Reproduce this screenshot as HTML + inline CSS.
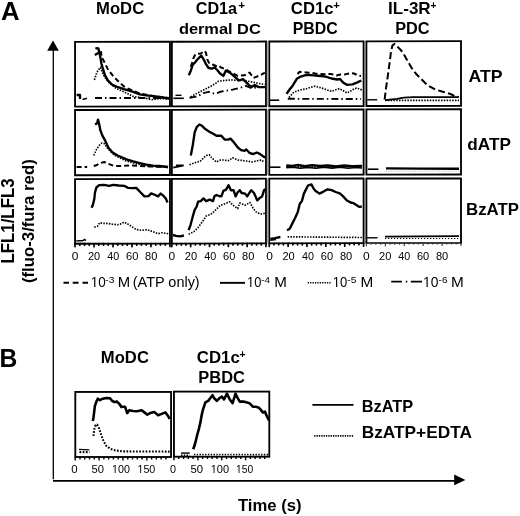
<!DOCTYPE html>
<html><head><meta charset="utf-8"><title>Figure</title><style>
html,body{margin:0;padding:0;background:#fff;}
svg{display:block;filter:grayscale(1) blur(0.35px);}
text{font-family:"Liberation Sans", sans-serif;fill:#000;}
.b{font-weight:bold;}
.r{font-weight:normal;}
.tl{font-size:10px;text-anchor:middle;}
.bx{fill:none;stroke:#000;stroke-width:1.85;}
.bxt{fill:none;stroke:#000;stroke-width:1.5;}
.tk{fill:none;stroke:#000;stroke-width:1.4;}
.tka{fill:none;stroke:#000;stroke-width:1.7;stroke-linecap:round;}
.tkf{fill:none;stroke:#333;stroke-width:1.1;}
.cof{stroke:#bbb;stroke-width:1;stroke-dasharray:1.2 1.2;}
.cof2{stroke:#000;stroke-width:1.2;stroke-dasharray:1.2 1.8;}
polyline,path{fill:none;stroke-linejoin:round;}
.cs{stroke:#000;stroke-width:2.35;}
.csb{stroke:#000;stroke-width:2.6;}
.csm{stroke:#000;stroke-width:1.7;}
.ct{stroke:#000;stroke-width:1.6;}
.cd{stroke:#000;stroke-width:2;stroke-dasharray:5 3;}
.cdl{stroke:#000;stroke-width:2;stroke-dasharray:7 3.2;}
.co{stroke:#000;stroke-width:1.65;stroke-dasharray:1.5 1.3;}
.cob{stroke:#000;stroke-width:2.1;stroke-dasharray:1.7 1.5;}
.cob2{stroke:#000;stroke-width:1.6;stroke-dasharray:1.4 1.4;}
.cdd{stroke:#000;stroke-width:1.9;stroke-dasharray:7 3 1.5 3;}
.ax{stroke:#000;stroke-width:1.3;}
.axh{stroke:#000;stroke-width:1.9;}
.ah{fill:#000;stroke:none;}
.lg{stroke:#000;stroke-width:1.9;}
.lgo{stroke:#000;stroke-width:1.6;stroke-dasharray:1.3 1.1;}
.lgb{stroke:#000;stroke-width:1.9;}
.lgbo{stroke:#000;stroke-width:1.7;stroke-dasharray:1.3 1.05;}
</style></head>
<body><svg width="520" height="516" viewBox="0 0 520 516">
<rect width="520" height="516" fill="#fff"/>
<g transform="matrix(1,-0.0019,0,1,0,0.1425)">
<rect x="75.05" y="41.90" width="94.90" height="64.70" class="bx"/>
<rect x="171.85" y="41.90" width="94.15" height="64.70" class="bx"/>
<rect x="269.25" y="41.90" width="94.35" height="64.70" class="bx"/>
<rect x="366.40" y="41.90" width="94.60" height="64.70" class="bx"/>
<rect x="266.9" y="41.90" width="1.4" height="64.70" fill="#aaa"/>
<rect x="364.5" y="41.90" width="1.0" height="64.70" fill="#777"/>
<rect x="75.05" y="110.00" width="94.90" height="65.20" class="bx"/>
<rect x="171.85" y="110.00" width="94.15" height="65.20" class="bx"/>
<rect x="269.25" y="110.00" width="94.35" height="65.20" class="bx"/>
<rect x="366.40" y="110.00" width="94.60" height="65.20" class="bx"/>
<rect x="266.9" y="110.00" width="1.4" height="65.20" fill="#aaa"/>
<rect x="364.5" y="110.00" width="1.0" height="65.20" fill="#777"/>
<rect x="75.05" y="179.05" width="94.90" height="64.70" class="bx"/>
<rect x="171.85" y="179.05" width="94.15" height="64.70" class="bx"/>
<rect x="269.25" y="179.05" width="94.35" height="64.70" class="bx"/>
<path class="bx" d="M366.40,243.75V179.05H461.00V243.75"/>
<path class="bxt" d="M365.50,243.65H461.90"/>
<rect x="266.9" y="179.05" width="1.4" height="64.70" fill="#aaa"/>
<rect x="364.5" y="179.05" width="1.0" height="64.70" fill="#777"/>
</g>
<rect x="75.30" y="391.95" width="95.75" height="65.05" class="bx"/>
<rect x="173.95" y="391.60" width="95.35" height="65.10" class="bx"/>
<g transform="matrix(1,-0.0019,0,1,0,0.1425)">
<path class="tka" d="M75.05,243.75V246.75M79.80,243.75V245.25M84.54,243.75V245.25M89.28,243.75V245.25M94.03,243.75V246.75M98.77,243.75V245.25M103.52,243.75V245.25M108.26,243.75V245.25M113.01,243.75V246.75M117.75,243.75V245.25M122.50,243.75V245.25M127.24,243.75V245.25M131.99,243.75V246.75M136.73,243.75V245.25M141.48,243.75V245.25M146.22,243.75V245.25M150.97,243.75V246.75M155.71,243.75V245.25M160.46,243.75V245.25M165.20,243.75V245.25M169.95,243.75V246.75"/>
<path class="tka" d="M171.85,243.75V246.75M176.56,243.75V245.25M181.26,243.75V245.25M185.97,243.75V245.25M190.68,243.75V246.75M195.39,243.75V245.25M200.09,243.75V245.25M204.80,243.75V245.25M209.51,243.75V246.75M214.22,243.75V245.25M218.93,243.75V245.25M223.63,243.75V245.25M228.34,243.75V246.75M233.05,243.75V245.25M237.75,243.75V245.25M242.46,243.75V245.25M247.17,243.75V246.75M251.88,243.75V245.25M256.58,243.75V245.25M261.29,243.75V245.25M266.00,243.75V246.75"/>
<path class="tka" d="M269.25,243.75V246.75M273.97,243.75V245.25M278.69,243.75V245.25M283.40,243.75V245.25M288.12,243.75V246.75M292.84,243.75V245.25M297.56,243.75V245.25M302.27,243.75V245.25M306.99,243.75V246.75M311.71,243.75V245.25M316.43,243.75V245.25M321.14,243.75V245.25M325.86,243.75V246.75M330.58,243.75V245.25M335.30,243.75V245.25M340.01,243.75V245.25M344.73,243.75V246.75M349.45,243.75V245.25M354.17,243.75V245.25M358.88,243.75V245.25M363.60,243.75V246.75"/>
<path class="tkf" d="M366.40,243.75V246.75M371.13,243.75V245.25M375.86,243.75V245.25M380.59,243.75V245.25M385.32,243.75V246.75M390.05,243.75V245.25M394.78,243.75V245.25M399.51,243.75V245.25M404.24,243.75V246.75M408.97,243.75V245.25M413.70,243.75V245.25M418.43,243.75V245.25M423.16,243.75V246.75M427.89,243.75V245.25M432.62,243.75V245.25M437.35,243.75V245.25M442.08,243.75V246.75M446.81,243.75V245.25M451.54,243.75V245.25M456.27,243.75V245.25M461.00,243.75V246.75"/>
</g>
<path class="tk" d="M75.20,457.00V460.60M79.98,457.00V459.40M84.75,457.00V459.40M89.53,457.00V459.40M94.30,457.00V459.40M99.08,457.00V460.60M103.85,457.00V459.40M108.62,457.00V459.40M113.40,457.00V459.40M118.18,457.00V459.40M122.95,457.00V460.60M127.73,457.00V459.40M132.50,457.00V459.40M137.28,457.00V459.40M142.05,457.00V459.40M146.82,457.00V460.60M151.60,457.00V459.40M156.38,457.00V459.40M161.15,457.00V459.40M165.93,457.00V459.40"/>
<path class="tk" d="M174.00,456.70V460.30M178.78,456.70V459.10M183.55,456.70V459.10M188.32,456.70V459.10M193.10,456.70V459.10M197.88,456.70V460.30M202.65,456.70V459.10M207.43,456.70V459.10M212.20,456.70V459.10M216.97,456.70V459.10M221.75,456.70V460.30M226.53,456.70V459.10M231.30,456.70V459.10M236.07,456.70V459.10M240.85,456.70V459.10M245.62,456.70V460.30M250.40,456.70V459.10M255.18,456.70V459.10M259.95,456.70V459.10M264.73,456.70V459.10"/>
<polyline class="co" points="94.4,79.9 97.0,72.0 100.4,67.4 104.3,76.6 109.6,83.2 116.2,88.5 124.0,91.8 126.6,93.1 133.0,96.4 146.0,98.4 152.0,99.7 160.0,98.6 169.0,99.0"/>
<polyline class="cd" points="102.4,58.2 108.3,70.0 113.6,76.6 120.2,83.2 124.0,86.5 130.0,89.5 140.0,93.5 150.0,95.5 160.0,97.0 169.0,98.0"/>
<path class="cs" d="M94.8,55.1L99.2,52.6M100.7,51.2L101.3,55.6"/>
<polyline class="cs" points="95.4,48.2 98.4,48.5 99.6,53.5 100.6,58.5 101.4,63.5 102.5,67.4 105.0,75.3 108.0,80.6 112.0,84.5 118.0,87.2 124.0,89.2 133.2,91.8 139.8,94.4 146.4,95.4 153.0,96.1 159.6,97.0 166.2,98.0 169.0,98.5"/>
<polyline class="cdd" points="95.0,98.0 169.0,98.0"/>
<path class="cs" d="M76.6,95H80V99"/><path class="ct" d="M82.5,99.5L87,98.3"/>
<polyline class="co" points="190.8,97.0 197.4,93.1 204.0,89.8 210.6,86.5 215.9,83.2 218.5,81.2 224.6,80.5 231.2,79.9 237.8,80.5 244.4,80.5 250.9,81.8 257.5,83.2 264.8,84.5"/>
<polyline class="cdd" points="189.5,97.7 197.4,96.4 203.3,93.1 208.6,91.8 214.5,93.8 217.2,93.1 220.6,91.7 225.2,90.8 232.5,89.7 240.4,87.8 245.7,85.8 252.3,88.4 258.0,87.0 264.8,87.0"/>
<polyline class="cd" points="190.8,66.7 193.4,58.2 195.4,54.2 200.7,53.5 204.6,50.9 206.0,52.9 207.3,59.5 209.3,63.4 213.2,64.7 215.9,66.0 219.8,66.0 220.6,67.4 225.9,69.3 231.2,72.6 237.8,75.9 244.4,75.3 249.6,72.6 253.6,77.9 260.2,75.3 264.8,72.6"/>
<polyline class="cs" points="188.8,75.3 190.8,70.7 192.8,64.7 195.4,62.1 198.0,58.8 201.3,55.5 203.3,58.8 206.0,64.1 208.6,68.0 211.9,68.7 214.5,67.4 217.2,70.0 219.8,73.3 223.3,75.9 225.9,70.6 229.9,72.6 235.1,77.2 239.1,80.5 243.0,79.2 247.0,83.2 250.9,87.1 254.9,85.1 258.8,87.1 264.8,87.1"/>
<path class="tk" d="M175.5,95.3H181.5"/><path class="ct" d="M173.4,98.3H183.8"/>
<polyline class="co" points="289.0,97.5 293.0,93.0 296.8,91.0 301.0,89.8 306.5,88.7 310.0,87.5 314.2,86.2 318.0,87.0 321.8,88.1 326.0,89.5 331.5,91.4 335.0,90.0 339.2,88.7 343.0,90.5 346.9,93.0 350.0,91.5 353.0,89.5 356.5,88.1 359.0,88.8 362.0,90.0"/>
<polyline class="cdd" points="287.8,98.8 361.0,99.0"/>
<polyline class="cd" points="297.5,74.0 299.7,71.8 306.5,72.5 312.0,73.0 318.0,74.0 325.0,74.2 331.0,74.0 336.4,75.5 340.4,74.6 345.0,74.4 350.9,73.0 354.0,73.5 358.4,75.6 361.0,76.0"/>
<polyline class="cs" points="286.5,93.8 290.0,89.0 293.0,85.2 296.8,78.8 300.7,76.6 306.5,74.9 311.0,75.2 316.0,75.6 321.0,76.0 325.7,76.6 331.5,78.5 337.2,79.5 340.0,79.0 343.0,82.4 346.9,84.8 352.6,84.3 357.4,82.4 361.3,80.5"/>
<path class="ct" d="M270,100.2H279.2"/>
<polyline class="co" points="385.0,100.3 459.0,100.3"/>
<polyline class="csm" points="385.1,100.2 397.0,98.9 403.6,97.6 413.5,97.1 459.0,97.2"/>
<polyline class="cdl" points="384.6,99.5 385.8,89.8 387.7,76.6 389.7,62.1 391.0,51.6 392.4,45.6 394.3,43.9 397.0,46.2 400.3,49.5 402.9,52.5 406.2,58.5 410.2,65.5 412.6,69.5 416.0,73.7 421.7,79.5 427.5,85.2 435.2,89.5 442.8,91.8 450.5,94.0 455.0,96.3 458.7,97.0"/>
<path class="tk" d="M367.3,99.8H377.2"/>
<polyline class="co" points="93.8,155.5 96.4,149.6 99.1,145.6 101.7,143.0 104.3,143.6 107.0,147.6 110.0,151.0 115.0,155.5 120.0,158.0 126.0,161.0 135.0,163.5 145.0,165.5 155.0,166.5 168.0,167.5"/>
<polyline class="cd" points="93.8,166.0 97.0,165.0 99.0,163.4 104.3,162.0 107.0,163.4 113.6,165.8 119.5,166.0 130.0,165.5 140.0,166.0 150.0,166.5 168.0,167.0"/>
<polyline class="cs" points="95.1,124.5 97.1,123.2 98.0,119.6 99.1,123.8 100.4,130.4 102.4,135.7 105.0,140.3 108.3,147.6 112.3,152.2 117.5,155.5 120.0,156.5 126.6,159.4 133.2,161.4 139.8,163.1 146.4,164.7 152.9,165.7 159.5,166.0 168.1,167.0"/>
<path class="cd" d="M76.6,167.1H87.2"/>
<polyline class="co" points="189.5,164.7 194.7,162.7 200.0,161.4 202.7,158.8 206.0,155.5 209.3,154.8 211.9,158.1 216.5,162.0 220.5,160.1 223.3,160.0 228.5,160.7 232.5,157.8 237.8,160.0 244.4,160.7 252.3,162.0 257.5,160.7 261.5,160.0 264.1,162.0"/>
<polyline class="cs" points="190.8,155.5 192.8,145.0 194.7,132.4 196.7,127.1 199.4,124.5 202.0,125.8 205.3,129.1 209.3,131.7 213.2,133.7 216.5,135.7 221.3,135.7 224.6,139.6 227.9,139.6 230.5,138.6 233.8,142.3 237.8,147.5 241.1,150.2 244.4,150.8 246.3,149.5 249.6,152.8 252.9,154.1 256.9,152.5 260.2,154.1 263.5,156.7 265.2,157.4"/>
<path class="ct" d="M173.2,167.6L178,166.6L183.3,165.6M176,165.2H183.8"/>
<polyline class="co" points="286.3,166.8 362.0,167.0"/>
<polyline class="cs" points="286.3,165.5 292.0,165.8 298.0,165.0 305.0,166.2 312.0,165.2 320.0,166.0 328.0,165.4 336.0,166.3 344.0,165.5 352.0,166.2 362.0,165.8"/>
<polyline class="ct" points="286.3,167.6 293.0,167.2 300.0,168.2 308.0,167.4 316.0,168.2 324.0,167.3 332.0,168.1 340.0,167.3 348.0,168.2 356.0,167.5 362.0,168.0"/>
<path class="ct" d="M270,167.2H280.5"/>
<polyline class="cof" points="386.0,171.2 459.0,171.2"/>
<polyline class="cs" points="386.0,168.4 420.0,168.6 459.0,168.7"/>
<path class="ct" d="M367.8,169.2H378.4"/>
<polyline class="co" points="94.3,227.2 97.7,226.1 99.7,222.7 103.1,223.4 107.9,223.4 111.9,224.1 117.4,224.8 120.0,224.2 124.1,222.1 128.1,224.2 132.2,226.9 136.3,229.6 141.7,230.3 147.1,229.6 152.6,231.6 158.0,233.7 162.1,232.7 168.2,233.7"/>
<polyline class="cs" points="91.6,207.8 93.0,204.5 94.3,199.0 95.0,192.3 96.4,187.5 99.1,185.2 103.8,184.8 109.2,185.8 113.3,184.8 118.7,185.5 124.1,185.8 128.1,187.9 132.2,188.2 136.3,187.9 140.4,192.3 144.4,196.4 148.5,196.1 151.2,193.4 155.3,195.0 158.0,196.4 160.7,193.6 163.4,195.7 166.1,199.1 167.5,202.5"/>
<path class="tk" d="M76.2,240.9L80,240.7L83,240.6L84.5,239.4L86,240.5"/><path d="M76.2,242.5H86" stroke="#999" stroke-width="0.8"/>
<polyline class="co" points="188.6,234.3 194.0,231.6 198.1,227.5 202.2,222.1 206.2,216.0 210.3,214.6 213.0,212.6 215.7,209.9 220.5,205.1 223.4,204.5 229.5,201.8 232.9,205.2 237.7,208.6 239.7,203.1 245.1,205.2 249.9,202.5 253.3,208.6 256.7,212.6 261.4,214.0 264.8,213.3"/>
<polyline class="cs" points="188.6,230.2 190.6,224.8 192.7,216.7 194.7,209.9 196.7,206.5 198.1,201.7 200.8,201.1 203.5,198.4 206.2,201.1 209.6,199.7 213.0,201.1 214.4,196.3 216.4,195.0 219.0,196.0 221.4,196.4 223.4,190.9 226.1,189.6 228.6,185.2 230.9,190.2 233.6,190.2 235.6,196.4 237.7,192.3 239.7,190.2 241.7,193.0 245.1,193.6 247.2,196.4 251.2,190.2 254.0,193.0 257.3,200.4 260.1,197.7 262.1,196.4 264.1,190.2 265.8,188.9"/>
<path class="cs" d="M173,235L176,235.8L180,236.3L183.9,235.5"/>
<polyline class="co" points="287.6,236.8 362.0,237.5"/>
<polyline class="cs" points="287.0,230.2 289.7,228.8 292.4,223.4 295.1,218.0 297.8,211.9 299.8,203.8 301.9,201.1 303.9,193.6 305.9,189.6 308.0,185.5 311.4,184.4 313.4,188.2 315.4,190.9 316.7,191.6 319.4,193.6 323.5,191.6 327.6,189.3 331.6,190.2 335.7,192.0 339.8,193.4 343.2,196.4 346.6,200.2 350.6,202.5 353.3,203.1 356.7,205.2 359.5,206.9 361.8,206.5"/>
<path class="cs" d="M270.3,238.8L275,238.1L280.4,237"/><path class="tk" d="M270.3,240.3L276,239.5"/>
<polyline class="cof2" points="385.0,238.5 459.0,238.5"/>
<polyline class="csm" points="385.0,236.6 420.0,236.3 459.0,236.1"/>
<path class="tk" d="M367.1,237.8H377.5"/>
<polyline class="cob" points="93.5,436.0 94.2,429.5 95.6,425.0 97.1,424.5 99.2,428.8 101.4,435.3 103.5,441.0 106.4,446.0 110.7,448.9 115.0,450.3 119.3,451.0 124.0,451.4 169.6,451.6"/>
<polyline class="csb" points="92.8,421.0 93.5,417.4 94.2,411.6 94.9,405.9 96.4,401.6 97.8,398.7 99.9,400.2 102.8,398.7 106.4,398.0 110.0,398.3 112.1,400.9 114.3,402.0 117.1,401.6 119.3,403.8 121.4,407.0 122.9,406.7 125.0,406.7 127.2,413.1 129.3,410.3 132.9,411.0 137.2,411.3 141.6,410.3 144.4,412.4 147.3,414.6 150.2,413.1 154.5,412.1 158.1,415.3 161.7,413.9 165.3,412.4 168.1,416.0 169.6,418.9"/>
<path class="tk" d="M79,449.4L84,449.6L89.3,449.9"/><path class="cob" d="M79.5,452.1H89.5"/>
<polyline class="cob2" points="193.9,454.5 268.5,454.6"/>
<polyline class="csb" points="193.2,449.3 194.6,445.3 196.1,439.6 197.5,433.8 198.9,428.8 200.4,422.4 201.8,414.5 203.2,408.8 205.4,402.3 208.2,400.9 210.4,398.0 212.5,395.2 214.0,398.0 216.8,400.9 219.7,398.0 221.9,396.6 224.0,399.5 226.9,393.7 229.8,399.5 232.6,403.1 235.5,393.7 237.7,398.1 239.8,401.6 243.4,401.6 247.0,402.4 249.9,403.5 252.8,406.7 255.6,406.7 258.5,407.4 260.7,409.6 262.8,412.4 265.0,411.7 267.1,416.7 269.0,420.3"/>
<path class="tk" d="M181,453.1H189.8"/><path class="cob2" d="M181,455.2H189.6"/>
<path class="ax" d="M53.3,49V479.2"/>
<path class="axh" d="M53,480.9H456"/>
<path class="ah" d="M53,40.5L47.2,50.8H58.8Z"/>
<path class="ah" d="M465.4,479.9L454.2,474.6V485.3Z"/>
<path class="lg" d="M63.5,282.7H69M72.7,282.7H78.5M82.5,282.7H88"/>
<path class="lg" d="M220,282.85H245"/>
<path class="lgo" d="M307.7,282.7H331.5"/>
<path class="lg" d="M391.2,281.6H401.9M405.8,281.6H407.3M410.8,281.6H422"/>
<path class="lgb" d="M312.4,404.9H353.5"/>
<path class="lgbo" d="M314.2,435.8H353.5"/>
<text class="r" font-size="10.5" transform="translate(71.74,260.19) scale(1.1400,1.0676)">0</text>
<text class="r" font-size="10.5" transform="translate(87.92,260.19) scale(1.0561,1.0676)">20</text>
<text class="r" font-size="10.5" transform="translate(107.29,260.19) scale(1.0273,1.0676)">40</text>
<text class="r" font-size="10.5" transform="translate(126.02,260.19) scale(1.0561,1.0676)">60</text>
<text class="r" font-size="10.5" transform="translate(145.07,260.19) scale(1.0561,1.0676)">80</text>
<text class="r" font-size="10.5" transform="translate(168.59,260.19) scale(1.1400,1.0676)">0</text>
<text class="r" font-size="10.5" transform="translate(184.82,260.19) scale(1.0561,1.0676)">20</text>
<text class="r" font-size="10.5" transform="translate(204.24,260.19) scale(1.0273,1.0676)">40</text>
<text class="r" font-size="10.5" transform="translate(223.02,260.19) scale(1.0561,1.0676)">60</text>
<text class="r" font-size="10.5" transform="translate(242.12,260.19) scale(1.0561,1.0676)">80</text>
<text class="r" font-size="10.5" transform="translate(266.19,260.19) scale(1.1400,1.0676)">0</text>
<text class="r" font-size="10.5" transform="translate(282.47,260.19) scale(1.0561,1.0676)">20</text>
<text class="r" font-size="10.5" transform="translate(301.94,260.19) scale(1.0273,1.0676)">40</text>
<text class="r" font-size="10.5" transform="translate(320.77,260.19) scale(1.0561,1.0676)">60</text>
<text class="r" font-size="10.5" transform="translate(339.92,260.19) scale(1.0561,1.0676)">80</text>
<text class="r" font-size="10.5" transform="translate(362.99,260.19) scale(1.1400,1.0676)">0</text>
<text class="r" font-size="10.5" transform="translate(379.07,260.19) scale(1.0561,1.0676)">20</text>
<text class="r" font-size="10.5" transform="translate(398.34,260.19) scale(1.0273,1.0676)">40</text>
<text class="r" font-size="10.5" transform="translate(416.97,260.19) scale(1.0561,1.0676)">60</text>
<text class="r" font-size="10.5" transform="translate(435.92,260.19) scale(1.0561,1.0676)">80</text>
<text class="r" font-size="10" transform="translate(71.24,472.80) scale(1.1458,1.0423)">0</text>
<text class="r" font-size="10" transform="translate(91.55,472.80) scale(1.1250,1.0423)">50</text>
<text class="r" font-size="10" transform="translate(112.04,472.80) scale(1.0710,1.0423)">100</text><g transform="translate(112.04,472.80) scale(1.0710,1.0423)"><rect x="-0.293" y="-0.977" width="2.773" height="2.477" fill="#fff"/><rect x="3.433" y="-0.977" width="2.280" height="2.477" fill="#fff"/></g>
<text class="r" font-size="10" transform="translate(137.44,472.80) scale(1.0710,1.0423)">150</text><g transform="translate(137.44,472.80) scale(1.0710,1.0423)"><rect x="-0.293" y="-0.977" width="2.773" height="2.477" fill="#fff"/><rect x="3.433" y="-0.977" width="2.280" height="2.477" fill="#fff"/></g>
<text class="r" font-size="10" transform="translate(170.07,472.80) scale(1.0833,1.0423)">0</text>
<text class="r" font-size="10" transform="translate(190.55,472.80) scale(1.1346,1.0423)">50</text>
<text class="r" font-size="10" transform="translate(210.72,472.80) scale(1.1032,1.0423)">100</text><g transform="translate(210.72,472.80) scale(1.1032,1.0423)"><rect x="-0.293" y="-0.977" width="2.773" height="2.477" fill="#fff"/><rect x="3.433" y="-0.977" width="2.280" height="2.477" fill="#fff"/></g>
<text class="r" font-size="10" transform="translate(236.07,472.80) scale(1.0323,1.0423)">150</text><g transform="translate(236.07,472.80) scale(1.0323,1.0423)"><rect x="-0.293" y="-0.977" width="2.773" height="2.477" fill="#fff"/><rect x="3.433" y="-0.977" width="2.280" height="2.477" fill="#fff"/></g>
<text class="b" font-size="24" transform="translate(1.06,19.50) scale(1.0745,1.0606)">A</text>
<text class="b" font-size="24" transform="translate(-0.44,367.30) scale(1.0274,1.0485)">B</text>
<text class="b" font-size="16" transform="translate(96.05,14.10) scale(1.0425,1.0727)">MoDC</text>
<text class="b" font-size="16" transform="translate(195.79,14.10) scale(1.0099,1.0455)">CD1a</text>
<text class="b" font-size="11" transform="translate(238.26,9.05) scale(1.0727,1.0536)">+</text>
<text class="b" font-size="16" transform="translate(178.88,34.10) scale(1.0241,0.9655)">dermal DC</text>
<text class="b" font-size="16" transform="translate(290.87,13.85) scale(1.0453,1.0409)">CD1c</text>
<text class="b" font-size="11" transform="translate(333.24,8.81) scale(1.0273,1.0089)">+</text>
<text class="b" font-size="16" transform="translate(292.66,33.90) scale(0.9932,1.0545)">PBDC</text>
<text class="b" font-size="16" transform="translate(388.03,13.85) scale(1.0675,1.0591)">IL-3R</text>
<text class="b" font-size="11" transform="translate(430.44,8.82) scale(0.9273,1.0179)">+</text>
<text class="b" font-size="16" transform="translate(395.18,33.70) scale(1.0186,1.0500)">PDC</text>
<text class="b" font-size="16.5" transform="translate(468.47,81.70) scale(1.0714,1.0263)">ATP</text>
<text class="b" font-size="16.5" transform="translate(467.27,149.50) scale(1.0420,1.0088)">dATP</text>
<text class="b" font-size="16.5" transform="translate(466.08,214.90) scale(1.0179,1.0175)">BzATP</text>
<text class="b" font-size="16" transform="translate(100.86,362.70) scale(1.0403,1.0455)">MoDC</text>
<text class="b" font-size="16" transform="translate(196.86,362.70) scale(1.0504,1.0455)">CD1c</text>
<text class="b" font-size="11" transform="translate(239.43,358.42) scale(0.9455,1.0179)">+</text>
<text class="b" font-size="16" transform="translate(198.37,382.70) scale(1.0274,1.0455)">PBDC</text>
<text class="b" font-size="16" transform="translate(361.78,411.90) scale(1.0226,1.0545)">BzATP</text>
<text class="b" font-size="16" transform="translate(361.71,437.70) scale(1.0816,1.0455)">BzATP+EDTA</text>
<text class="b" font-size="16" transform="translate(237.99,510.70) scale(1.0417,1.0727)">Time (s)</text>
<text class="b" font-size="16" transform="translate(14.00,263.56) rotate(-90) scale(1.0530,1.1000)">LFL1/LFL3</text>
<text class="b" font-size="16" transform="translate(33.80,283.04) rotate(-90) scale(1.0480,0.9741)">(fluo-3/fura red)</text>
<text class="r" font-size="14" transform="translate(90.74,287.20) scale(0.9640,1.0000)">10</text><g transform="translate(90.74,287.20) scale(0.9640,1.0000)"><rect x="-0.410" y="-1.367" width="3.883" height="2.867" fill="#fff"/><rect x="4.806" y="-1.367" width="3.192" height="2.867" fill="#fff"/></g>
<text class="r" font-size="10" transform="translate(105.29,282.51) scale(1.0250,0.8592)">-3</text>
<text class="r" font-size="14" transform="translate(117.63,287.20) scale(1.0638,1.0000)">M</text>
<text class="r" font-size="14" transform="translate(246.99,287.20) scale(0.9209,1.0000)">10</text><g transform="translate(246.99,287.20) scale(0.9209,1.0000)"><rect x="-0.410" y="-1.367" width="3.883" height="2.867" fill="#fff"/><rect x="4.806" y="-1.367" width="3.192" height="2.867" fill="#fff"/></g>
<text class="r" font-size="10" transform="translate(261.30,282.60) scale(0.9878,0.8841)">-4</text>
<text class="r" font-size="14" transform="translate(274.21,287.20) scale(1.0851,1.0000)">M</text>
<text class="r" font-size="14" transform="translate(332.78,287.20) scale(0.9317,1.0000)">10</text><g transform="translate(332.78,287.20) scale(0.9317,1.0000)"><rect x="-0.410" y="-1.367" width="3.883" height="2.867" fill="#fff"/><rect x="4.806" y="-1.367" width="3.192" height="2.867" fill="#fff"/></g>
<text class="r" font-size="10" transform="translate(347.29,282.51) scale(1.0250,0.8714)">-5</text>
<text class="r" font-size="14" transform="translate(360.49,287.20) scale(1.0957,1.0000)">M</text>
<text class="r" font-size="14" transform="translate(423.11,287.20) scale(0.9928,1.0000)">10</text><g transform="translate(423.11,287.20) scale(0.9928,1.0000)"><rect x="-0.410" y="-1.367" width="3.883" height="2.867" fill="#fff"/><rect x="4.806" y="-1.367" width="3.192" height="2.867" fill="#fff"/></g>
<text class="r" font-size="10" transform="translate(438.60,282.51) scale(1.0000,0.8592)">-6</text>
<text class="r" font-size="14" transform="translate(451.09,287.20) scale(1.0957,1.0000)">M</text>
<text class="r" font-size="14" transform="translate(132.77,287.20) scale(1.0333,1.0000)">(ATP only)</text>
</svg></body></html>
